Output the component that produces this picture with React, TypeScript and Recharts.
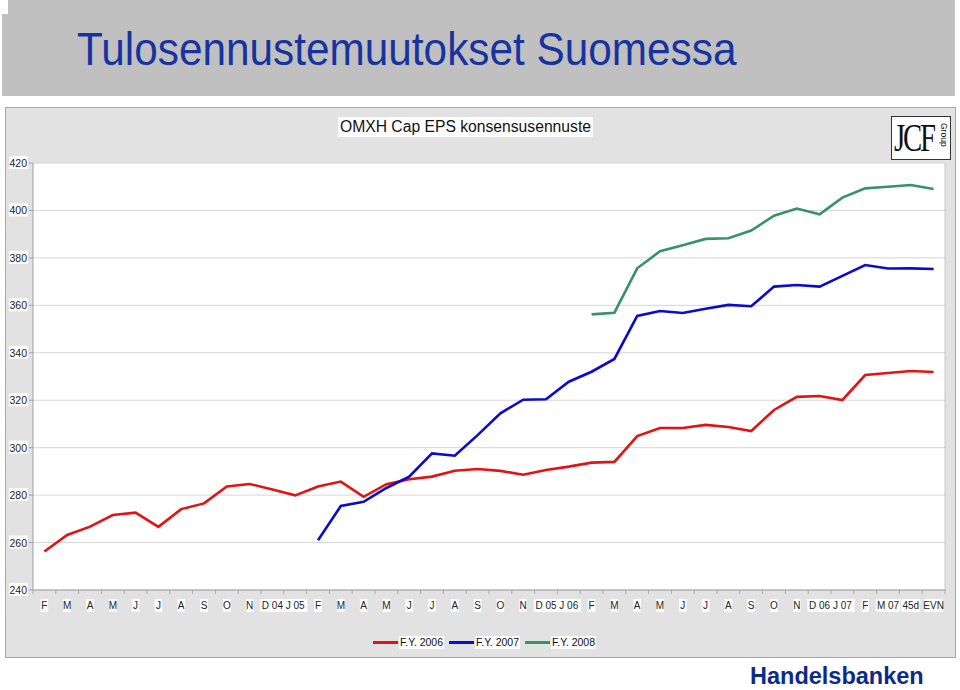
import React from "react";
import {
  LineChart,
  Line,
  XAxis,
  YAxis,
  CartesianGrid,
  ReferenceLine,
} from "recharts";

const categories = [
  "F", "M", "A", "M", "J", "J", "A", "S", "O", "N", "D 04", "J 05",
  "F", "M", "A", "M", "J", "J", "A", "S", "O", "N", "D 05", "J 06",
  "F", "M", "A", "M", "J", "J", "A", "S", "O", "N", "D 06", "J 07",
  "F", "M 07", "45d", "EVN",
];

const fy2006 = [
  256.2, 263.2, 266.7, 271.6, 272.6, 266.6, 274.1, 276.5, 283.6, 284.7,
  282.4, 279.9, 283.6, 285.7, 279.3, 284.6, 286.7, 287.8, 290.3, 291.0,
  290.2, 288.6, 290.6, 292.0, 293.7, 294.0, 304.9, 308.3, 308.3, 309.6,
  308.7, 307.0, 315.9, 321.4, 321.8, 320.1, 330.6, 331.5, 332.3, 331.9,
];

const fy2007 = [
  null, null, null, null, null, null, null, null, null, null, null, null,
  261.0, 275.4, 277.2, 283.0, 287.8, 297.6, 296.6, 305.3, 314.5, 320.2,
  320.4, 327.8, 332.0, 337.4, 355.5, 357.6, 356.8, 358.6, 360.2, 359.6,
  367.9, 368.6, 367.9, 372.4, 377.0, 375.5, 375.6, 375.3,
];

const fy2008 = [
  null, null, null, null, null, null, null, null, null, null, null, null,
  null, null, null, null, null, null, null, null, null, null, null, null,
  356.2, 356.9, 375.6, 382.8, 385.3, 388.0, 388.3, 391.5, 397.8, 400.8,
  398.4, 405.4, 409.3, 410.0, 410.7, 409.0,
];

const yTicks = [240, 260, 280, 300, 320, 340, 360, 380, 400, 420];

const series = [
  { key: "fy2006", name: "F.Y. 2006", color: "#e01414" },
  { key: "fy2007", name: "F.Y. 2007", color: "#0a0ad2" },
  { key: "fy2008", name: "F.Y. 2008", color: "#37916a" },
];

const data = categories.map((c, i) => ({
  idx: i,
  cat: c,
  fy2006: fy2006[i],
  fy2007: fy2007[i],
  fy2008: fy2008[i],
}));

// labels on whole numbers, small tick marks on the half steps between them
const xTicks: number[] = [];
for (let i = 0; i < categories.length; i++) {
  xTicks.push(i - 0.5, i);
}
xTicks.push(categories.length - 0.5);

const font = "'Liberation Sans', Arial, sans-serif";

function XTick(props: any) {
  const { x, y, payload } = props;
  const v = payload.value;
  if (!Number.isInteger(v)) {
    return <line x1={x} x2={x} y1={y - 6} y2={y - 2} stroke="#aaa" strokeWidth={1} />;
  }
  const label = categories[v] ?? "";
  const w = label.length * 5.6 + 2;
  return (
    <g>
      <rect x={x - w / 2} y={y + 3} width={w} height={13} fill="#fff" />
      <text x={x} y={y + 13} textAnchor="middle" fontSize={10} fontFamily={font} fill="#222">
        {label}
      </text>
    </g>
  );
}

function YTick(props: any) {
  const { x, y, payload } = props;
  return (
    <g>
      <rect x={x - 18} y={y - 7} width={19} height={13} fill="#fff" />
      <text x={x} y={y + 4} textAnchor="end" fontSize={10.5} fontFamily={font} fill="#222">
        {payload.value}
      </text>
    </g>
  );
}

export default function App() {
  return (
    <div style={{ position: "absolute", left: 0, top: 0, width: 960, height: 690, background: "#fff", overflow: "hidden" }}>
      {/* title banner */}
      <div style={{ position: "absolute", left: 2, top: 0, width: 953, height: 96, background: "#c0c0c0" }} />
      <div style={{ position: "absolute", left: 0, top: 0, width: 8, height: 14, background: "#fff" }} />
      <div
        style={{
          position: "absolute",
          left: 77,
          top: 23,
          fontFamily: font,
          fontSize: 46,
          color: "#1733a0",
          whiteSpace: "nowrap",
          transform: "scaleX(0.92)",
          transformOrigin: "left top",
          lineHeight: "52px",
        }}
      >
        Tulosennustemuutokset Suomessa
      </div>

      {/* chart panel */}
      <div
        style={{
          position: "absolute",
          left: 5,
          top: 107,
          width: 949,
          height: 549,
          background: "#e2e2e2",
          border: "1px solid #a8a8a8",
        }}
      />
      <div
        style={{
          position: "absolute",
          left: 338,
          top: 117,
          height: 20,
          padding: "0 2px",
          background: "#fff",
          fontFamily: font,
          fontSize: 16,
          lineHeight: "20px",
          color: "#111",
          whiteSpace: "nowrap",
          transform: "scaleX(0.98)",
          transformOrigin: "left top",
        }}
      >
        OMXH Cap EPS konsensusennuste
      </div>

      {/* logo */}
      <div
        style={{
          position: "absolute",
          left: 891,
          top: 116,
          width: 58,
          height: 42,
          background: "#fff",
          border: "1px solid #333",
          overflow: "hidden",
        }}
      >
        <div
          style={{
            position: "absolute",
            left: 2,
            top: 0,
            fontFamily: "'Liberation Serif', 'DejaVu Serif', serif",
            fontSize: 40,
            lineHeight: "42px",
            color: "#111",
            letterSpacing: -3,
            whiteSpace: "nowrap",
            transform: "scaleX(0.72)",
            transformOrigin: "left top",
          }}
        >
          JCF
        </div>
        <div
          style={{
            position: "absolute",
            left: 57,
            top: 6,
            fontFamily: font,
            fontSize: 8.5,
            lineHeight: "10px",
            color: "#111",
            whiteSpace: "nowrap",
            transform: "rotate(90deg)",
            transformOrigin: "left top",
          }}
        >
          Group
        </div>
      </div>

      <div style={{ position: "absolute", left: 0, top: 0 }}>
        <LineChart
          width={960}
          height={690}
          data={data}
          margin={{ top: 163, right: 15, left: 8, bottom: 70 }}
        >
          <CartesianGrid vertical={false} stroke="#d6d6d6" fill="#ffffff" />
          <XAxis
            dataKey="idx"
            type="number"
            domain={[-0.5, categories.length - 0.5]}
            ticks={xTicks}
            interval={0}
            height={30}
            tickSize={4}
            tickMargin={2}
            tickLine={false}
            axisLine={{ stroke: "#a0a0a0" }}
            tick={<XTick />}
          />
          <YAxis
            domain={[240, 420]}
            ticks={yTicks}
            width={25}
            tickSize={4}
            tickMargin={2}
            interval={0}
            axisLine={{ stroke: "#a0a0a0" }}
            tickLine={{ stroke: "#a0a0a0" }}
            tick={<YTick />}
          />
          <ReferenceLine x={categories.length - 0.5} stroke="#c8c8c8" />
          {series.map((s) => (
            <Line
              key={s.key}
              dataKey={s.key}
              name={s.name}
              type="linear"
              stroke={s.color}
              strokeWidth={2.6}
              dot={false}
              activeDot={false}
              isAnimationActive={false}
            />
          ))}
        </LineChart>
      </div>

      {/* legend */}
      <div
        style={{
          position: "absolute",
          left: 373,
          top: 636,
          display: "flex",
          alignItems: "center",
          fontFamily: font,
          fontSize: 10.5,
          color: "#111",
        }}
      >
        {series.map((s) => (
          <div key={s.key} style={{ display: "flex", alignItems: "center", marginRight: 5 }}>
            <div style={{ width: 25, height: 3, background: s.color }} />
            <div style={{ background: "#fff", padding: "0 1px", lineHeight: "13px", marginLeft: 1 }}>{s.name}</div>
          </div>
        ))}
      </div>

      <div
        style={{
          position: "absolute",
          left: 750,
          top: 662,
          fontFamily: font,
          fontWeight: "bold",
          fontSize: 23.5,
          lineHeight: "28px",
          color: "#0c2a8e",
          whiteSpace: "nowrap",
        }}
      >
        Handelsbanken
      </div>
    </div>
  );
}
